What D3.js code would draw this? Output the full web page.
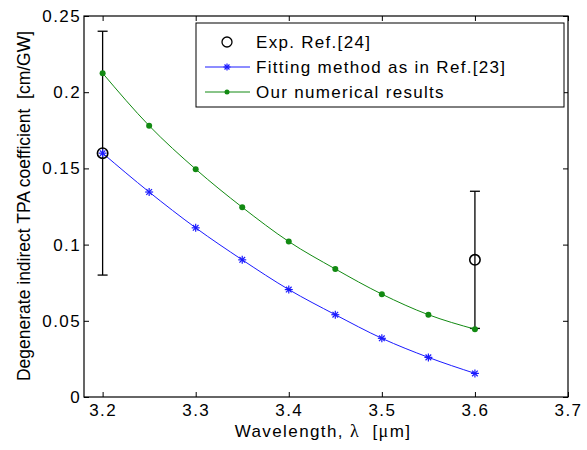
<!DOCTYPE html>
<html>
<head>
<meta charset="utf-8">
<script src="https://cdn.jsdelivr.net/npm/d3@7"></script>
<style>
body{margin:0;background:#fff;}
text{font-family:"Liberation Sans",Arial,sans-serif;}
</style>
</head>
<body>
<div class="box"></div>
<script>
// wavelengths (um)
const lambda=[3.2,3.25,3.3,3.35,3.4,3.45,3.5,3.55,3.6];
const fitting=[0.160,0.1345,0.111,0.090,0.0705,0.054,0.0385,0.026,0.0155];
const numerical=[0.2125,0.178,0.1495,0.1245,0.102,0.084,0.0675,0.054,0.0445];
// experimental points with error bars
const expX=[3.2,3.6];
const expY=[0.16,0.09];
const expLo=[0.08,0.045];
const expHi=[0.24,0.135];
const xTicks=[3.2,3.3,3.4,3.5,3.6,3.7];
const yTicks=[0,0.05,0.1,0.15,0.2,0.25];

const W=587,H=450;
const margin={top:16,right:19,bottom:53,left:84};
const svg=d3.select('.box').append('svg').attr('width',W).attr('height',H).style('background','white');
const gW=W-margin.left-margin.right, gH=H-margin.top-margin.bottom;
const g=svg.append('g').attr('transform',`translate(${margin.left},${margin.top})`);

const x=d3.scaleLinear().domain([3.18,3.7]).range([0,gW]);
const y=d3.scaleLinear().domain([0,0.25]).range([gH,0]);

const fmt=d=>d===0?'0':String(d);
const styleAxis=a=>{
  a.select('.domain').remove();
  a.selectAll('line').attr('stroke','#000');
  a.selectAll('text').attr('font-size',17).attr('fill','#000').style('letter-spacing','1.4px');
};
g.append('g').attr('transform',`translate(0,${gH})`)
  .call(d3.axisBottom(x).tickValues(xTicks).tickFormat(fmt).tickSizeInner(-5).tickSizeOuter(0).tickPadding(7)).call(styleAxis);
g.append('g').call(d3.axisTop(x).tickValues(xTicks).tickFormat('').tickSizeInner(-5).tickSizeOuter(0)).call(styleAxis);
g.append('g').call(d3.axisLeft(y).tickValues(yTicks).tickFormat(fmt).tickSizeInner(-5).tickSizeOuter(0).tickPadding(3)).call(styleAxis);
g.append('g').attr('transform',`translate(${gW},0)`)
  .call(d3.axisRight(y).tickValues(yTicks).tickFormat('').tickSizeInner(-5).tickSizeOuter(0)).call(styleAxis);
g.append('rect').attr('width',gW).attr('height',gH).attr('fill','none').attr('stroke','#000').attr('stroke-width',1.2);

const line=d3.line().x(d=>x(d[0])).y(d=>y(d[1])).curve(d3.curveMonotoneX);
const blue='#1a1aff', green='#128a12';
const fitPts=lambda.map((l,i)=>[l,fitting[i]]);
const numPts=lambda.map((l,i)=>[l,numerical[i]]);

// error bars
expX.forEach((v,i)=>{
  const eb=g.append('g').attr('stroke','#000').attr('stroke-width',1.3);
  eb.append('line').attr('x1',x(v)).attr('x2',x(v)).attr('y1',y(expLo[i])).attr('y2',y(expHi[i]));
  [expLo[i],expHi[i]].forEach(t=>eb.append('line').attr('x1',x(v)-5).attr('x2',x(v)+5).attr('y1',y(t)).attr('y2',y(t)));
});

g.append('path').datum(fitPts).attr('d',line).attr('fill','none').attr('stroke',blue).attr('stroke-width',1);
g.append('path').datum(numPts).attr('d',line).attr('fill','none').attr('stroke',green).attr('stroke-width',1);

const star=(sel,cx,cy,r)=>{
  const s=sel.append('g').attr('transform',`translate(${cx},${cy})`).attr('stroke',blue).attr('stroke-width',1.2);
  [0,45,90,135].forEach(a=>{
    const rad=a*Math.PI/180;
    s.append('line').attr('x1',-r*Math.cos(rad)).attr('y1',-r*Math.sin(rad)).attr('x2',r*Math.cos(rad)).attr('y2',r*Math.sin(rad));
  });
};
fitPts.forEach(p=>star(g,x(p[0]),y(p[1]),4));
g.selectAll('.dot').data(numPts).enter().append('circle')
  .attr('cx',d=>x(d[0])).attr('cy',d=>y(d[1])).attr('r',3).attr('fill',green);
g.selectAll('.exp').data(expX).enter().append('circle')
  .attr('cx',d=>x(d)).attr('cy',(d,i)=>y(expY[i])).attr('r',5.2).attr('fill','none').attr('stroke','#000').attr('stroke-width',1.6);

// legend
const lg=svg.append('g').attr('transform','translate(196,23)');
lg.append('rect').attr('width',368).attr('height',84).attr('fill','#fff').attr('stroke','#000').attr('stroke-width',1);
lg.append('circle').attr('cx',31).attr('cy',19).attr('r',5).attr('fill','none').attr('stroke','#000').attr('stroke-width',1.3);
lg.append('line').attr('x1',9).attr('x2',54).attr('y1',44).attr('y2',44).attr('stroke',blue);
star(lg,31,44,3.5);
lg.append('line').attr('x1',9).attr('x2',54).attr('y1',69).attr('y2',69).attr('stroke',green);
lg.append('circle').attr('cx',31).attr('cy',69).attr('r',2.5).attr('fill',green);
['Exp. Ref.[24]','Fitting method as in Ref.[23]','Our numerical results'].forEach((t,i)=>{
  lg.append('text').attr('x',60).attr('y',19+i*25).attr('dy','0.35em').attr('font-size',17)
    .style('letter-spacing','1.3px').text(t);
});

// axis labels (greek letters in a serif face as in the original)
const xl=svg.append('text').attr('x',323).attr('y',437).attr('text-anchor','middle').attr('font-size',17)
  .style('letter-spacing','1.4px').style('white-space','pre');
xl.append('tspan').text('Wavelength, ');
xl.append('tspan').attr('font-family','"Liberation Serif",serif').attr('font-size',18).text('λ');
xl.append('tspan').text('  [');
xl.append('tspan').attr('font-family','"Liberation Serif",serif').attr('font-size',18).text('μ');
xl.append('tspan').text('m]');
svg.append('text').attr('transform','translate(30,206) rotate(-90)').attr('text-anchor','middle')
  .attr('font-size',17.5).style('white-space','pre').text('Degenerate indirect TPA coefficient  [cm/GW]');
</script>
</body>
</html>
